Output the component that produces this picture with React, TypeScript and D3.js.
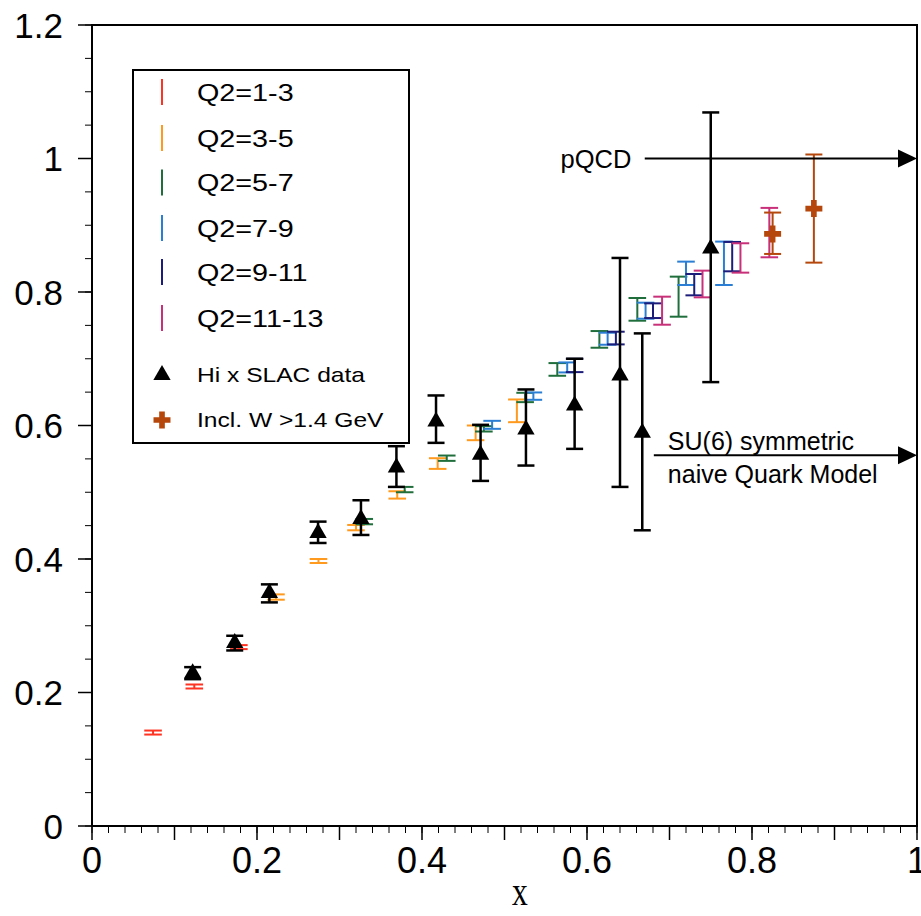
import React from 'react';
import * as d3 from 'd3';

const W = 921;
const H = 916;
const plot = { left: 92, right: 917, top: 25, bottom: 826 };

const legendLabels = ['Q2=1-3', 'Q2=3-5', 'Q2=5-7', 'Q2=7-9', 'Q2=9-11', 'Q2=11-13'];
const legendColors = ['#ff3322', '#ff9a1f', '#1f6e3c', '#2a7fd4', '#1c1c7a', '#c8307a'];

// [x, ratio, error] for each Q2 bin
const q2_1_3 = [[0.074, 0.140, 0.003], [0.124, 0.209, 0.003], [0.178, 0.268, 0.003]];
const q2_3_5 = [
  [0.223, 0.343, 0.004], [0.2745, 0.397, 0.003], [0.320, 0.447, 0.004], [0.370, 0.496, 0.0055],
  [0.419, 0.543, 0.008], [0.465, 0.589, 0.011], [0.515, 0.622, 0.017],
];
const q2_5_7 = [
  [0.330, 0.456, 0.004], [0.379, 0.504, 0.004], [0.430, 0.551, 0.004], [0.475, 0.595, 0.004],
  [0.525, 0.642, 0.007], [0.564, 0.684, 0.0095], [0.615, 0.729, 0.0125], [0.661, 0.774, 0.017],
  [0.711, 0.793, 0.030],
];
const q2_7_9 = [
  [0.485, 0.601, 0.006], [0.535, 0.644, 0.0055], [0.576, 0.687, 0.0075], [0.625, 0.730, 0.009],
  [0.671, 0.772, 0.012], [0.720, 0.828, 0.0175], [0.766, 0.843, 0.0325],
];
const q2_9_11 = [
  [0.585, 0.690, 0.010], [0.635, 0.731, 0.0095], [0.680, 0.772, 0.011], [0.730, 0.811, 0.016],
  [0.776, 0.853, 0.022],
];
const q2_11_13 = [
  [0.691, 0.772, 0.021], [0.740, 0.812, 0.020], [0.786, 0.851, 0.022], [0.821, 0.889, 0.037],
];
const q2Series = [q2_1_3, q2_3_5, q2_5_7, q2_7_9, q2_9_11, q2_11_13];

// Hi x SLAC data
const slacX = [0.122, 0.173, 0.215, 0.274, 0.326, 0.369, 0.417, 0.471, 0.526, 0.585, 0.640, 0.667, 0.750];
const slacY = [0.229, 0.274, 0.349, 0.439, 0.460, 0.537, 0.606, 0.556, 0.594, 0.630, 0.675, 0.589, 0.865];
const slacLo = [0.220, 0.263, 0.335, 0.424, 0.436, 0.508, 0.574, 0.517, 0.540, 0.565, 0.508, 0.443, 0.665];
const slacHi = [0.238, 0.285, 0.362, 0.456, 0.488, 0.569, 0.645, 0.601, 0.654, 0.700, 0.851, 0.738, 1.069];

// Incl. W > 1.4 GeV
const inclX = [0.825, 0.875];
const inclY = [0.887, 0.925];
const inclLo = [0.857, 0.844];
const inclHi = [0.919, 1.006];

const pqcdValue = 1.0;
const su6Value = 5 / 9;

const font = '"Liberation Sans", Arial, Helvetica, sans-serif';
const brown = '#b5470d';

export default function App() {
  const x = d3.scaleLinear().domain([0, 1]).range([plot.left, plot.right]);
  const y = d3.scaleLinear().domain([0, 1.2]).range([plot.bottom, plot.top]);
  const fmt = d3.format('.1~f');

  const tri = d3.symbol(d3.symbolTriangle, 130)() as string;
  const cross = d3.symbol(d3.symbolCross, 160)() as string;

  const errBar = (cx: number, lo: number, hi: number, color: string, sw: number, cap: number, key: string) => (
    <g key={key} stroke={color} strokeWidth={sw} fill="none">
      <line x1={x(cx)} x2={x(cx)} y1={y(lo)} y2={y(hi)} />
      <line x1={x(cx) - cap} x2={x(cx) + cap} y1={y(lo)} y2={y(lo)} />
      <line x1={x(cx) - cap} x2={x(cx) + cap} y1={y(hi)} y2={y(hi)} />
    </g>
  );

  const arrow = (x0: number, x1: number, v: number) => {
    const yy = y(v);
    const tip = x(x1);
    return (
      <g>
        <line x1={x(x0)} x2={tip - 10} y1={yy} y2={yy} stroke="#000" strokeWidth={2} />
        <path d={`M${tip},${yy} L${tip - 19},${yy - 9} L${tip - 19},${yy + 9} Z`} fill="#000" />
      </g>
    );
  };

  const legendRows = [92, 138, 182.5, 228, 272, 318];

  return (
    <svg width={W} height={H} style={{ position: 'absolute', left: 0, top: 0, background: '#fff' }}>
      <rect x={0} y={0} width={W} height={H} fill="#fff" />

      {/* colored Q2 bins */}
      {q2Series.map((s, i) =>
        s.map((d, j) => errBar(d[0], d[1] - d[2], d[1] + d[2], legendColors[i], 2, 8.8, `q${i}-${j}`))
      )}

      {/* SLAC */}
      {slacX.map((sx, i) => (
        <g key={`s${i}`}>
          {errBar(sx, slacLo[i], slacHi[i], '#000', 2.5, 8.5, `se${i}`)}
          <path d={tri} transform={`translate(${x(sx)},${y(slacY[i])})`} fill="#000" />
        </g>
      ))}

      {/* inclusive */}
      {inclX.map((ix, i) => (
        <g key={`w${i}`}>
          {errBar(ix, inclLo[i], inclHi[i], brown, 2, 8.5, `we${i}`)}
          <path d={cross} transform={`translate(${x(ix)},${y(inclY[i])})`} fill={brown} />
        </g>
      ))}

      {/* annotations */}
      {arrow(0.67, 1.0, pqcdValue)}
      <text x={x(0.568)} y={y(pqcdValue) + 9} fontFamily={font} fontSize={25.5}>pQCD</text>
      {arrow(0.681, 1.0, su6Value)}
      <text x={x(0.698)} y={y(su6Value) - 5} fontFamily={font} fontSize={25}>SU(6) symmetric</text>
      <text x={x(0.698)} y={y(su6Value) + 28} fontFamily={font} fontSize={25}>naive Quark Model</text>

      {/* frame */}
      <rect x={plot.left} y={plot.top} width={plot.right - plot.left} height={plot.bottom - plot.top}
        fill="none" stroke="#000" strokeWidth={2} />

      {/* x axis ticks */}
      {x.ticks(50).map((t) => (
        <line key={`xm${t}`} x1={x(t)} x2={x(t)} y1={plot.bottom} y2={plot.bottom + 7} stroke="#000" strokeWidth={1} />
      ))}
      {x.ticks(10).map((t) => (
        <line key={`xM${t}`} x1={x(t)} x2={x(t)} y1={plot.bottom} y2={plot.bottom + 14} stroke="#000" strokeWidth={1.5} />
      ))}
      {x.ticks(5).map((t) => (
        <text key={`xl${t}`} x={x(t)} y={plot.bottom + 47} textAnchor="middle" fontFamily={font} fontSize={36}>
          {fmt(t)}
        </text>
      ))}
      <text transform={`translate(520,905) scale(0.75,1)`} textAnchor="middle"
        fontFamily='"Liberation Serif", "Times New Roman", serif' fontSize={42}>x</text>

      {/* y axis ticks */}
      {y.ticks(24).map((t) => (
        <line key={`ym${t}`} x1={plot.left - 7} x2={plot.left} y1={y(t)} y2={y(t)} stroke="#000" strokeWidth={1} />
      ))}
      {y.ticks(6).map((t) => (
        <line key={`yM${t}`} x1={plot.left - 14} x2={plot.left} y1={y(t)} y2={y(t)} stroke="#000" strokeWidth={1.5} />
      ))}
      {y.ticks(6).map((t) => (
        <text key={`yl${t}`} x={plot.left - 29} y={y(t) + 12.5} textAnchor="end" fontFamily={font} fontSize={35}>
          {fmt(t)}
        </text>
      ))}

      {/* legend */}
      <rect x={133} y={70} width={276} height={373} fill="#fff" stroke="#000" strokeWidth={2} />
      {legendLabels.map((lab, i) => (
        <g key={`lg${i}`}>
          <line x1={162} x2={162} y1={legendRows[i] - 13} y2={legendRows[i] + 13} stroke={legendColors[i]} strokeWidth={2} />
          <text transform={`translate(197,${legendRows[i] + 8.5}) scale(1.25,1)`} fontFamily={font} fontSize={23}>{lab}</text>
        </g>
      ))}
      <path d={tri} transform="translate(162,375)" fill="#000" />
      <text transform="translate(197,382) scale(1.2,1)" fontFamily={font} fontSize={20.5}>Hi x SLAC data</text>
      <path d={cross} transform="translate(162,420)" fill={brown} />
      <text transform="translate(197,427) scale(1.2,1)" fontFamily={font} fontSize={20.5}>Incl. W &gt;1.4 GeV</text>
    </svg>
  );
}
